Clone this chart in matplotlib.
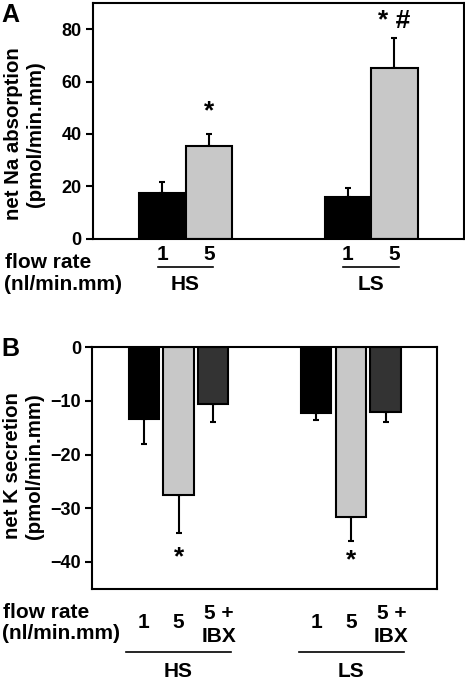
import matplotlib
matplotlib.use("Agg")
import matplotlib.pyplot as plt
from matplotlib.transforms import blended_transform_factory as btf

plt.rcParams['font.family'] = ['Liberation Sans', 'DejaVu Sans']
plt.rcParams['font.weight'] = 'bold'

# Panel A data
groups = ["HS", "LS"]
flow_a = ["1", "5"]
na_mean = [[17.5, 35.3], [16.0, 65.1]]
na_err = [[4.2, 4.7], [3.2, 11.5]]
colors_a = ["#000000", "#c8c8c8"]

# Panel B data
flow_b = ["1", "5", "5 +\nIBX"]
k_mean = [[-13.4, -27.5, -10.6], [-12.2, -31.6, -12.0]]
k_err = [[4.6, 7.1, 3.3], [1.3, 4.6, 2.0]]
colors_b = ["#000000", "#c8c8c8", "#333333"]

W, H = 465, 680
fig = plt.figure(figsize=(W / 100, H / 100), dpi=100)

def fy(p):
    return 1 - p / H

def fx(p):
    return p / W

TICK = 13
LAB = 14.7
TXT = 15

# ---------------- Panel A ----------------
axA = fig.add_axes([fx(92.7), fy(238.7), fx(464 - 92.7), (238.7 - 3) / H])
startsA = [1.5, 5.5]
for gi, g in enumerate(groups):
    for j in range(2):
        x = startsA[gi] + j
        axA.bar(x, na_mean[gi][j], width=1.0, color=colors_a[j], edgecolor='black', linewidth=1.5, zorder=2)
        axA.errorbar(x, na_mean[gi][j], yerr=[[0], [na_err[gi][j]]], fmt='none', ecolor='black',
                     elinewidth=1.5, capsize=2.5, capthick=1.5, zorder=1)
axA.set_xlim(0, 8)
axA.set_ylim(0, 90)
axA.set_yticks([0, 20, 40, 60, 80])
axA.set_xticks([])
axA.tick_params(axis='y', direction='out', length=5, width=1.5, labelsize=TICK, pad=3)
for s in axA.spines.values():
    s.set_linewidth(1.5)
for lab in axA.get_yticklabels():
    lab.set_fontweight('bold')
fig.text(fx(24.5), fy(134), "net Na absorption\n(pmol/min.mm)", rotation=90, ha='center', va='center',
         fontsize=LAB, fontweight='bold', linespacing=1.2, multialignment='center')
axA.text(startsA[0] + 1, 48.5, "*", ha='center', va='center', fontsize=19, fontweight='bold')
axA.text(startsA[1] + 1, 83, "* #", ha='center', va='center', fontsize=19, fontweight='bold')

trA = btf(axA.transData, fig.transFigure)
for gi, g in enumerate(groups):
    for j in range(2):
        axA.text(startsA[gi] + j, fy(255), flow_a[j], transform=trA, ha='center', va='center', fontsize=TXT, fontweight='bold')
    x0, x1 = startsA[gi] - 0.1, startsA[gi] + 1.1
    axA.plot([x0, x1], [fy(266.7), fy(266.7)], transform=trA, color='black', lw=1.2, clip_on=False)
    axA.text(startsA[gi] + 0.5, fy(284), g, transform=trA, ha='center', va='center', fontsize=TXT, fontweight='bold')
fig.text(fx(5), fy(262), "flow rate", ha='left', va='center', fontsize=TXT, fontweight='bold')
fig.text(fx(4), fy(284), "(nl/min.mm)", ha='left', va='center', fontsize=TXT, fontweight='bold')
fig.text(fx(1), fy(15), "A", ha='left', va='center', fontsize=18, fontweight='bold')

# ---------------- Panel B ----------------
axB = fig.add_axes([fx(92.3), fy(588.7), fx(437.3 - 92.3), (588.7 - 347.3) / H])
startsB = [1.477, 6.4]
bw = 0.87
for gi, g in enumerate(groups):
    for j in range(3):
        x = startsB[gi] + j * 0.99
        axB.bar(x, k_mean[gi][j], width=bw, color=colors_b[j], edgecolor='black', linewidth=1.5, zorder=2)
        axB.errorbar(x, k_mean[gi][j], yerr=[[k_err[gi][j]], [0]], fmt='none', ecolor='black',
                     elinewidth=1.5, capsize=2.5, capthick=1.5, zorder=1)
axB.set_xlim(0, 9.86)
axB.set_ylim(-45, 0)
axB.set_yticks([0, -10, -20, -30, -40])
axB.set_xticks([])
axB.tick_params(axis='y', direction='out', length=5, width=1.5, labelsize=TICK, pad=3)
for s in axB.spines.values():
    s.set_linewidth(1.5)
for lab in axB.get_yticklabels():
    lab.set_fontweight('bold')
fig.text(fx(23.5), fy(466), "net K secretion\n(pmol/min.mm)", rotation=90, ha='center', va='center',
         fontsize=LAB, fontweight='bold', linespacing=1.2, multialignment='center')
axB.text(startsB[0] + 0.99, -39.2, "*", ha='center', va='center', fontsize=19, fontweight='bold')
axB.text(startsB[1] + 0.99, -39.8, "*", ha='center', va='center', fontsize=19, fontweight='bold')

trB = btf(axB.transData, fig.transFigure)
for gi, g in enumerate(groups):
    for j in range(3):
        x = startsB[gi] + j * 0.99
        if "\n" in flow_b[j]:
            axB.text(x + 0.17, fy(625), flow_b[j], transform=trB, ha='center', va='center', fontsize=TXT,
                     fontweight='bold', linespacing=1.3)
        else:
            axB.text(x, fy(622.7), flow_b[j], transform=trB, ha='center', va='center', fontsize=TXT, fontweight='bold')
    x0, x1 = startsB[gi] - 0.5, startsB[gi] + 2.5
    axB.plot([x0, x1], [fy(652.3), fy(652.3)], transform=trB, color='black', lw=1.2, clip_on=False)
    axB.text(startsB[gi] + 0.99, fy(671.5), g, transform=trB, ha='center', va='center', fontsize=TXT, fontweight='bold')
fig.text(fx(3), fy(612), "flow rate", ha='left', va='center', fontsize=TXT, fontweight='bold')
fig.text(fx(2), fy(633.5), "(nl/min.mm)", ha='left', va='center', fontsize=TXT, fontweight='bold')
fig.text(fx(1), fy(349), "B", ha='left', va='center', fontsize=18, fontweight='bold')

fig.savefig("out.png", dpi=100)
